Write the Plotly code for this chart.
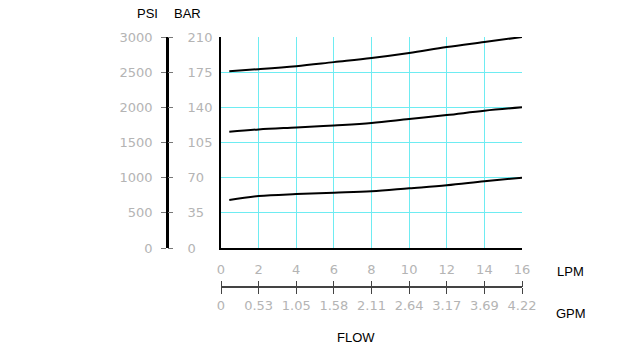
import plotly.graph_objects as go

# ---- data ----
flow_lpm = [0.44, 2, 4, 6, 8, 10, 12, 14, 16]
curve_high = [176, 178, 181, 185, 189, 194, 200, 205, 210]
curve_mid = [115.7, 118, 120, 122, 124.4, 128.4, 132.3, 136.6, 140]
curve_low = [47.8, 51.7, 53.7, 55, 56.4, 59.4, 62.4, 66.4, 70]

lpm_ticks = [0, 2, 4, 6, 8, 10, 12, 14, 16]
gpm_labels = ["0", "0.53", "1.05", "1.58", "2.11", "2.64", "3.17", "3.69", "4.22"]
bar_ticks = [0, 35, 70, 105, 140, 175, 210]
psi_ticks = [0, 500, 1000, 1500, 2000, 2500, 3000]

W, H = 640, 360
def px(x): return x / W
def py(y): return 1 - y / H

XD = [px(221), px(522)]
YD = [py(248), py(37)]

tickfont = dict(family="DejaVu Sans", size=13, color="#b4b4b4")
titlefont = dict(family="Liberation Sans, Arial", size=13, color="#000")
GRID = "#6eecf2"

fig = go.Figure()
for c in (curve_high, curve_mid, curve_low):
    fig.add_trace(go.Scatter(x=flow_lpm, y=c, mode="lines", line=dict(color="#000", width=2, shape="spline"),
                             showlegend=False, hoverinfo="skip"))

fig.update_layout(
    width=W, height=H, margin=dict(l=0, r=0, t=0, b=0, autoexpand=False),
    paper_bgcolor="white", plot_bgcolor="white",
    xaxis=dict(domain=XD, range=[0, 16], tickvals=lpm_ticks, showgrid=True, gridcolor=GRID, gridwidth=1,
               showline=True, linecolor="#000", linewidth=2, ticks="", tickfont=tickfont, automargin=False,
               ticklabelstandoff=8, zeroline=False, anchor="y"),
    yaxis=dict(domain=YD, range=[0, 210], tickvals=bar_ticks, showticklabels=False, showgrid=True,
               gridcolor=GRID, gridwidth=1, showline=True, linecolor="#000", linewidth=2, automargin=False,
               ticks="", zeroline=False, anchor="x"),
    # GPM axis (bottom ticks with labels)
    xaxis2=dict(domain=XD, range=[0, 16], tickvals=lpm_ticks, ticktext=gpm_labels, anchor="free",
                position=py(287), overlaying="x", side="bottom", showgrid=False, showline=True,
                linecolor="#444", linewidth=2, ticks="outside", ticklen=6, tickwidth=1, tickcolor="#444",
                tickfont=tickfont, zeroline=False, automargin=False),
    # GPM axis (upward ticks)
    xaxis3=dict(domain=XD, range=[0, 16], tickvals=lpm_ticks, showticklabels=False, anchor="free",
                position=py(287), overlaying="x", side="top", showgrid=False, showline=False,
                ticks="outside", ticklen=6, tickwidth=1, tickcolor="#444", zeroline=False, automargin=False),
    # PSI axis
    yaxis2=dict(domain=YD, range=[0, 3000], tickvals=psi_ticks, anchor="free", position=px(167),
                overlaying="y", side="left", showgrid=False, showline=True, linecolor="#000", linewidth=2.5,
                ticks="outside", ticklen=5, tickwidth=1, tickcolor="#777", tickfont=tickfont,
                ticklabelstandoff=6, zeroline=False, automargin=False),
    # BAR axis
    yaxis3=dict(domain=YD, range=[0, 210], tickvals=bar_ticks, anchor="free", position=px(167),
                overlaying="y", side="right", showgrid=False, showline=False,
                ticks="outside", ticklen=5, tickwidth=1, tickcolor="#777", tickfont=tickfont,
                ticklabelstandoff=12, zeroline=False, automargin=False),
)

# dummy traces so extra axes render
fig.add_trace(go.Scatter(x=[None], y=[None], xaxis="x2", yaxis="y", showlegend=False))
fig.add_trace(go.Scatter(x=[None], y=[None], xaxis="x3", yaxis="y", showlegend=False))
fig.add_trace(go.Scatter(x=[None], y=[None], xaxis="x", yaxis="y2", showlegend=False))
fig.add_trace(go.Scatter(x=[None], y=[None], xaxis="x", yaxis="y3", showlegend=False))

for text, x, y in [("PSI", 147, 14), ("BAR", 187, 14), ("LPM", 570, 271), ("GPM", 571, 313), ("FLOW", 356, 337)]:
    fig.add_annotation(text=text, x=px(x), y=py(y), xref="paper", yref="paper", showarrow=False,
                       font=titlefont, xanchor="center", yanchor="middle")

fig.write_html("out.html")
